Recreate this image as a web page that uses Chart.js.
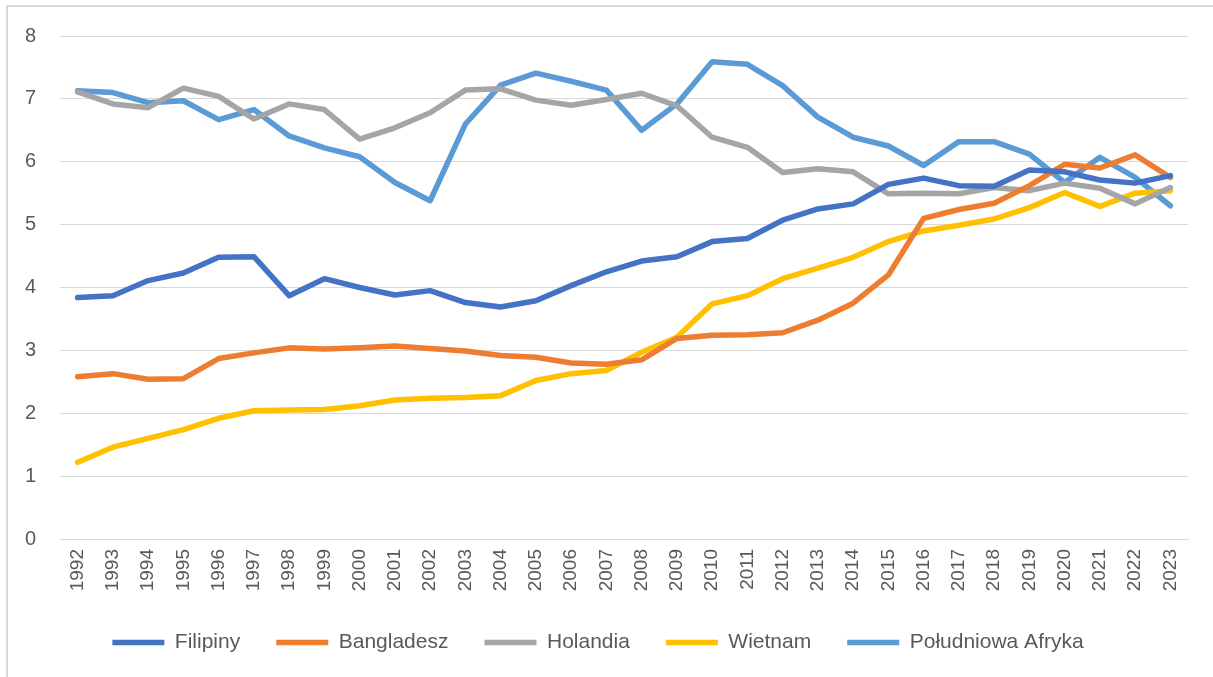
<!DOCTYPE html>
<html>
<head>
<meta charset="utf-8">
<script src="https://cdn.jsdelivr.net/npm/chart.js@4.4.1/dist/chart.umd.min.js"></script>
<style>
  body { margin: 0; background: #fff; overflow: hidden; }
  #wrap { position: relative; width: 1213px; height: 677px; }
  #frame { position: absolute; left: 6px; top: 5px; width: 1220px; height: 700px; border: 2px solid #d9d9d9; box-sizing: border-box; }
  canvas { position: absolute; left: 0; top: 0; }
</style>
</head>
<body>
<div id="wrap">
  <div id="frame"></div>
  <canvas id="MyChart" width="1213" height="677"></canvas>
</div>
<script>
const years = ['1992','1993','1994','1995','1996','1997','1998','1999','2000','2001','2002','2003','2004','2005','2006','2007',
               '2008','2009','2010','2011','2012','2013','2014','2015','2016','2017','2018','2019','2020','2021','2022','2023'];

const filipiny = [3.84, 3.87, 4.11, 4.23, 4.48, 4.49, 3.87, 4.14, 4.00, 3.88, 3.95, 3.76, 3.69, 3.79, 4.03, 4.25,
                  4.42, 4.49, 4.73, 4.78, 5.07, 5.25, 5.33, 5.64, 5.74, 5.62, 5.61, 5.87, 5.84, 5.71, 5.66, 5.78];
const bangladesz = [2.58, 2.63, 2.54, 2.55, 2.87, 2.96, 3.04, 3.02, 3.04, 3.07, 3.03, 2.99, 2.92, 2.89, 2.80, 2.78,
                    2.85, 3.19, 3.24, 3.25, 3.28, 3.48, 3.75, 4.20, 5.10, 5.24, 5.34, 5.62, 5.96, 5.90, 6.11, 5.75];
const holandia = [7.11, 6.92, 6.86, 7.17, 7.04, 6.68, 6.92, 6.83, 6.36, 6.54, 6.78, 7.14, 7.16, 6.98, 6.90, 6.99,
                  7.09, 6.89, 6.39, 6.23, 5.83, 5.89, 5.84, 5.49, 5.50, 5.49, 5.59, 5.54, 5.66, 5.58, 5.33, 5.59];
const wietnam = [1.22, 1.46, 1.60, 1.74, 1.92, 2.04, 2.05, 2.06, 2.12, 2.21, 2.24, 2.25, 2.28, 2.52, 2.63, 2.68,
                 2.97, 3.21, 3.74, 3.87, 4.14, 4.31, 4.48, 4.73, 4.90, 4.99, 5.09, 5.27, 5.51, 5.29, 5.50, 5.54];
const afryka = [7.13, 7.10, 6.94, 6.97, 6.67, 6.83, 6.41, 6.22, 6.08, 5.67, 5.38, 6.60, 7.22, 7.41, 7.28, 7.14,
                6.50, 6.92, 7.59, 7.55, 7.21, 6.71, 6.39, 6.25, 5.94, 6.32, 6.32, 6.12, 5.67, 6.07, 5.75, 5.30];

const yTicks = [0, 1, 2, 3, 4, 5, 6, 7, 8];

const FONT = "'Liberation Sans', Arial, sans-serif";
const GRID = '#d9d9d9';
const TXT = '#595959';

const line = (label, data, color) => ({
    label: label,
    data: data,
    borderColor: color,
    backgroundColor: color,
    borderWidth: 5.5,
    borderCapStyle: 'round',
    borderJoinStyle: 'round',
    pointRadius: 0,
    pointHoverRadius: 0,
    tension: 0,
    fill: false
});

const ctx = document.getElementById('MyChart').getContext('2d');
let myChart = new Chart(ctx, {
    type: 'line',
    data: {
        labels: years,
        datasets: [
            line('Filipiny', filipiny, '#4472C4'),
            line('Bangladesz', bangladesz, '#ED7D31'),
            line('Holandia', holandia, '#A5A5A5'),
            line('Wietnam', wietnam, '#FFC000'),
            line('Południowa Afryka', afryka, '#5B9BD5')
        ]
    },
    options: {
        responsive: false,
        animation: false,
        devicePixelRatio: 1,
        layout: { padding: { left: 8, right: 25, top: 35, bottom: 14 } },
        plugins: {
            tooltip: { enabled: false },
            legend: {
                position: 'bottom',
                labels: {
                    usePointStyle: true,
                    pointStyle: 'line',
                    pointStyleWidth: 52,
                    padding: 36,
                    color: TXT,
                    font: { family: FONT, size: 21 }
                }
            }
        },
        scales: {
            x: {
                offset: true,
                grid: { display: false, drawTicks: false },
                border: { display: true, color: GRID, width: 1 },
                ticks: {
                    autoSkip: false,
                    minRotation: 90,
                    maxRotation: 90,
                    padding: 10,
                    color: TXT,
                    font: { family: FONT, size: 19 }
                },
                afterFit: (scale) => { scale.height = 57; }
            },
            y: {
                min: 0,
                max: 8,
                afterBuildTicks: (scale) => { scale.ticks = yTicks.map(v => ({ value: v })); },
                grid: { color: GRID, lineWidth: 1, drawTicks: false },
                border: { display: false },
                ticks: {
                    padding: 24,
                    color: TXT,
                    font: { family: FONT, size: 20 }
                },
                afterFit: (scale) => { scale.width = 52; }
            }
        }
    }
});
</script>
</body>
</html>
